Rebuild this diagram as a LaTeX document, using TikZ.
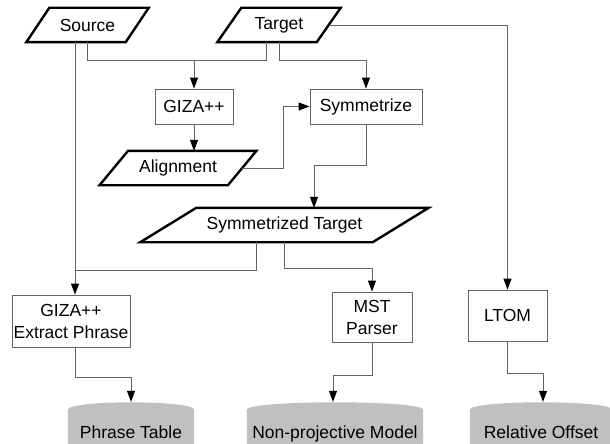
\documentclass[tikz,border=0pt]{standalone}
\usepackage{fontspec}
\setmainfont{Liberation Sans}
\usetikzlibrary{arrows.meta,calc,backgrounds}
\definecolor{ln}{RGB}{100,100,100}
\definecolor{cyl}{RGB}{192,192,192}
\begin{document}
\begin{tikzpicture}[x=1pt,y=-1pt,
  font=\fontsize{17.5}{22}\selectfont,
  conn/.style={draw=ln,line width=0.8pt},
  arr/.style={conn,-{Triangle[length=11pt,width=8pt,color=black]}},
  box/.style={draw=ln,line width=0.8pt,align=center,inner sep=0pt},
  para/.style={inner sep=0pt,align=center},
  paraline/.style={draw=black,line width=2.4pt,line join=miter},
  store/.style={inner sep=0pt,align=center,text height=36pt,text depth=6pt}
]
\useasboundingbox (0,0) rectangle (610,444);

% nodes
\node[para,minimum width=99,minimum height=34] (src) at (87.5,25) {Source};
\node[para,minimum width=99,minimum height=34] (tgt) at (279,25) {Target};
\node[box,minimum width=78,minimum height=35] (giza) at (194,106.5) {GIZA++};
\node[box,minimum width=112,minimum height=35] (sym) at (366,106.5) {Symmetrize};
\node[para,minimum width=128,minimum height=34] (aln) at (178,168) {Alignment};
\node[para,minimum width=232,minimum height=34] (symt) at (284.5,225) {Symmetrized Target};
\node[box,minimum width=118,minimum height=52] (ext) at (71,321) {GIZA++\\Extract Phrase};
\node[box,minimum width=80,minimum height=50] (mst) at (372,317) {MST\\Parser};
\node[box,minimum width=79,minimum height=51] (ltom) at (507.5,315.5) {LTOM};
\node[store,minimum width=126] (pt) at (131,423) {Phrase Table};
\node[store,minimum width=176] (nm) at (335,423) {Non-projective Model};
\node[store,minimum width=142] (ro) at (541,423) {Relative Offset};

% parallelogram outlines
\foreach \n/\s in {src/23,tgt/24,aln/28.5,symt/56}
  \draw[paraline] ($(\n.south west)+(-\s/2,0)$) -- ($(\n.north west)+(\s/2,0)$)
     -- ($(\n.north east)+(\s/2,0)$) -- ($(\n.south east)+(-\s/2,0)$) -- cycle;

% storage shapes
\begin{scope}[on background layer]
\foreach \n in {pt,nm,ro}
  \fill[cyl] (\n.south west) -- ($(\n.north west)+(0,8)$)
     .. controls ($(\n.north west)+(0,-2)$) and ($(\n.north east)+(0,-2)$) ..
     ($(\n.north east)+(0,8)$) -- (\n.south east) -- cycle;
\end{scope}

% connectors
\coordinate (s75) at ([xshift=-12.5pt]src.south);
\path (giza.north) ++(0,-28) coordinate (j1);
\draw[arr] (s75) -- (s75 |- ext.north);
\draw[conn] (src.south) |- (j1);
\draw[conn] ([xshift=-13pt]tgt.south) |- (j1);
\draw[arr] (j1) -- (giza.north);
\draw[arr] (tgt.south) |- ($(sym.north)+(0,-28)$) -- (sym.north);
\draw[arr] (tgt.east) -| (ltom.north);
\draw[arr] (giza.south) -- (giza.south |- aln.north);
\draw[arr] (aln.east) -- ++(41.5,0) |- (sym.west);
\draw[arr] (sym.south) -- ++(0,41) -| ([xshift=29.5pt]symt.north);
\draw[conn] ([xshift=-28.5pt]symt.south) |- (s75 |- 0,270);
\draw[arr] (symt.south) -- ++(0,26) -| (mst.north);
\draw[arr] ([xshift=4pt]ext.south) -- ++(0,30) -| (pt.north);
\draw[arr] (mst.south) -- ++(0,33) -| ([xshift=-2pt]nm.north);
\draw[arr] (ltom.south) -- ++(0,32) -| ([xshift=2pt]ro.north);
\end{tikzpicture}
\end{document}
